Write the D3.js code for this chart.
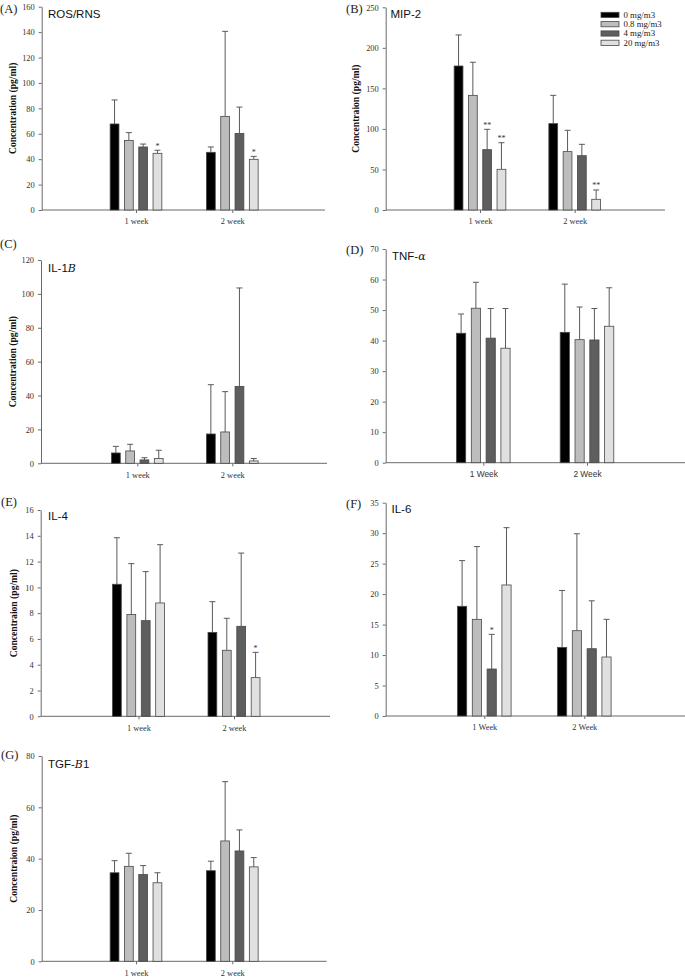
<!DOCTYPE html>
<html><head><meta charset="utf-8">
<script src="https://cdn.jsdelivr.net/npm/d3@7"></script>
<style>
body{margin:0;background:#fff;}
svg{display:block;}
</style></head>
<body>
<svg id="chart" width="685" height="977"></svg>
<script>
// ---------- data ----------
const doses = ["0 mg/m3", "0.8 mg/m3", "4 mg/m3", "20 mg/m3"];
const doseColors = ["#000000", "#bdbdbd", "#5e5e5e", "#e0e0e0"];
const weeksLower = ["1 week", "2 week"];
const weeksUpper = ["1 Week", "2 Week"];

// means [week][dose] and SD [week][dose]
const rosMean = [[67.7, 54.8, 49.6, 44.6], [45.4, 73.7, 60.3, 39.9]];
const rosSD   = [[18.9, 6.1, 2.3, 2.4], [4.2, 66.9, 20.7, 2.3]];
const rosSig  = [["", "", "", "*"], ["", "", "", "*"]];
const rosTicks = [0, 20, 40, 60, 80, 100, 120, 140, 160];

const mipMean = [[177.6, 141.4, 74.4, 50.2], [106.5, 72.0, 67.0, 13.2]];
const mipSD   = [[38.3, 40.8, 25.1, 32.8], [34.9, 26.3, 14.0, 11.5]];
const mipSig  = [["", "", "**", "**"], ["", "", "", "**"]];
const mipTicks = [0, 50, 100, 150, 200, 250];

const il1Mean = [[6.1, 7.3, 2.0, 2.8], [17.3, 18.5, 45.4, 1.4]];
const il1SD   = [[3.9, 3.9, 1.3, 4.9], [29.1, 23.8, 58.1, 1.4]];
const il1Sig  = [["", "", "", ""], ["", "", "", ""]];
const il1Ticks = [0, 20, 40, 60, 80, 100, 120];

const tnfMean = [[42.4, 50.6, 40.8, 37.5], [42.7, 40.3, 40.2, 44.7]];
const tnfSD   = [[6.3, 8.5, 9.7, 13.0], [15.8, 10.7, 10.3, 12.6]];
const tnfSig  = [["", "", "", ""], ["", "", "", ""]];
const tnfTicks = [0, 10, 20, 30, 40, 50, 60, 70];

const il4Mean = [[10.24, 7.9, 7.42, 8.79], [6.51, 5.12, 6.98, 3.0]];
const il4SD   = [[3.61, 3.94, 3.8, 4.52], [2.38, 2.48, 5.68, 1.96]];
const il4Sig  = [["", "", "", ""], ["", "", "", "*"]];
const il4Ticks = [0, 2, 4, 6, 8, 10, 12, 14, 16];

const il6Mean = [[18.0, 15.86, 7.71, 21.5], [11.26, 14.0, 11.04, 9.68]];
const il6SD   = [[7.5, 11.94, 5.69, 9.4], [9.34, 15.9, 7.86, 6.18]];
const il6Sig  = [["", "", "*", ""], ["", "", "", ""]];
const il6Ticks = [0, 5, 10, 15, 20, 25, 30, 35];

const tgfMean = [[34.5, 37.0, 33.8, 30.6], [35.3, 46.9, 43.0, 36.8]];
const tgfSD   = [[4.7, 5.1, 3.5, 3.9], [3.7, 23.1, 8.2, 3.6]];
const tgfSig  = [["", "", "", ""], ["", "", "", ""]];
const tgfTicks = [0, 20, 40, 60, 80];

// ---------- panels (layout) ----------
const panels = [
  {tag:"(A)", title:["ROS/RNS"], mean:rosMean, sd:rosSD, sig:rosSig, ticks:rosTicks, cats:weeksLower,
   ylab:"Concentration (pg/ml)", x0:41.7, x1:325, yT:6.7, yB:210, c:[136,232.3], step:14.3, bw:8.8,
   tagX:0, tagY:13, titleX:48, titleY:18, ylabX:12, catFont:"serif", legend:false},
  {tag:"(B)", title:["MIP-2"], mean:mipMean, sd:mipSD, sig:mipSig, ticks:mipTicks, cats:weeksLower,
   ylab:"Concentraion (pg/ml)", x0:385.7, x1:665, yT:7.3, yB:210, c:[480,574.7], step:14.3, bw:8.8,
   tagX:346, tagY:13, titleX:390.5, titleY:18, ylabX:355, catFont:"serif", legend:true},
  {tag:"(C)", title:["IL-1", "B"], mean:il1Mean, sd:il1SD, sig:il1Sig, ticks:il1Ticks, cats:weeksLower,
   ylab:"Concentration (pg/ml)", x0:41, x1:327, yT:260, yB:463.3, c:[137.3,232.3], step:14.3, bw:8.8,
   tagX:0, tagY:248, titleX:48, titleY:272, ylabX:12, catFont:"serif", legend:false},
  {tag:"(D)", title:["TNF-", "α"], mean:tnfMean, sd:tnfSD, sig:tnfSig, ticks:tnfTicks, cats:weeksUpper,
   ylab:null, x0:385.7, x1:685, yT:249, yB:462.7, c:[483.3,587], step:14.8, bw:9.2,
   tagX:346, tagY:254, titleX:392, titleY:260, ylabX:0, catFont:"sans", legend:false},
  {tag:"(E)", title:["IL-4"], mean:il4Mean, sd:il4SD, sig:il4Sig, ticks:il4Ticks, cats:weeksLower,
   ylab:"Concentraion (pg/ml)", x0:40.7, x1:330, yT:510, yB:716.3, c:[138.5,234], step:14.4, bw:8.8,
   tagX:1, tagY:506, titleX:48, titleY:520, ylabX:13, catFont:"serif", legend:false},
  {tag:"(F)", title:["IL-6"], mean:il6Mean, sd:il6SD, sig:il6Sig, ticks:il6Ticks, cats:weeksUpper,
   ylab:null, x0:385.7, x1:685, yT:502.7, yB:716, c:[484.3,584.3], step:14.8, bw:9.2,
   tagX:346, tagY:508, titleX:391.5, titleY:513, ylabX:0, catFont:"serif", legend:false},
  {tag:"(G)", title:["TGF-", "B", "1"], mean:tgfMean, sd:tgfSD, sig:tgfSig, ticks:tgfTicks, cats:weeksLower,
   ylab:"Concentraion (pg/ml)", x0:41.7, x1:326.7, yT:756, yB:961.3, c:[136,232.3], step:14.3, bw:8.8,
   tagX:1, tagY:759, titleX:48, titleY:768, ylabX:13, catFont:"serif", legend:false}
];

const svg = d3.select("#chart");
const serif = "'Liberation Serif','Times New Roman',serif";
const sans = "'Liberation Sans',Arial,sans-serif";
const axisCol = "#6a6a6a";

panels.forEach(p => {
  const g = svg.append("g");
  const y = d3.scaleLinear().domain([0, d3.max(p.ticks)]).range([p.yB, p.yT]);
  const xc = d3.scalePoint().domain(p.cats).range(p.c);
  const xd = d3.scaleBand().domain(doses).range([-2 * p.step, 2 * p.step]).paddingInner(1 - p.bw / p.step).paddingOuter((1 - p.bw / p.step) / 2);

  // y axis
  const ya = g.append("g").attr("transform", `translate(${p.x0},0)`)
    .call(d3.axisLeft(y).tickValues(p.ticks).tickSize(3).tickSizeOuter(0).tickPadding(4));
  ya.select(".domain").attr("stroke", axisCol).attr("stroke-width", 1);
  ya.selectAll(".tick line").attr("stroke", axisCol);
  ya.selectAll(".tick text").attr("font-family", serif).attr("font-size", 8.4).attr("fill", "#333");

  // x baseline
  g.append("line").attr("x1", p.x0).attr("x2", p.x1).attr("y1", p.yB).attr("y2", p.yB)
    .attr("stroke", axisCol).attr("stroke-width", 1);
  const xa = g.append("g").attr("transform", `translate(0,${p.yB})`)
    .call(d3.axisBottom(xc).tickSize(3).tickPadding(5.5));
  xa.select(".domain").remove();
  xa.selectAll(".tick line").attr("stroke", axisCol);
  xa.selectAll(".tick text").attr("font-family", p.catFont === "sans" ? sans : serif)
    .attr("font-size", 8.4).attr("fill", "#333");

  // bars
  p.cats.forEach((cat, wi) => {
    doses.forEach((d, di) => {
      const v = p.mean[wi][di], s = p.sd[wi][di];
      const bx = xc(cat) + xd(d);
      const cx = bx + xd.bandwidth() / 2;
      // error bar
      g.append("line").attr("x1", cx).attr("x2", cx).attr("y1", y(v)).attr("y2", y(v + s))
        .attr("stroke", "#5a5a5a").attr("stroke-width", 1);
      g.append("line").attr("x1", cx - 3).attr("x2", cx + 3).attr("y1", y(v + s)).attr("y2", y(v + s))
        .attr("stroke", "#5a5a5a").attr("stroke-width", 1);
      g.append("rect").attr("x", bx).attr("y", y(v)).attr("width", xd.bandwidth())
        .attr("height", y(0) - y(v)).attr("fill", doseColors[di]).attr("stroke", "#484848").attr("stroke-width", 0.8);
      const sg = p.sig[wi][di];
      if (sg) {
        g.append("text").attr("x", cx).attr("y", y(v + s) - 1.5).attr("text-anchor", "middle")
          .attr("font-family", serif).attr("font-size", 8).attr("fill", "#333").text(sg);
      }
    });
  });

  // panel tag
  g.append("text").attr("x", p.tagX).attr("y", p.tagY).attr("font-family", serif)
    .attr("font-size", 12.5).attr("fill", "#222").text(p.tag);
  // title
  const t = g.append("text").attr("x", p.titleX).attr("y", p.titleY).attr("font-family", sans)
    .attr("font-size", 11.5).attr("fill", "#111");
  p.title.forEach((part, i) => {
    const ts = t.append("tspan").text(part);
    if (i === 1) ts.attr("font-style", "italic").attr("font-family", "'DejaVu Serif',serif").attr("font-size", 11);
  });
  // y label
  if (p.ylab) {
    g.append("text").attr("transform", `translate(${p.ylabX + 3.5},${(p.yT + p.yB) / 2}) rotate(-90)`)
      .attr("text-anchor", "middle").attr("font-family", serif).attr("font-weight", "bold")
      .attr("font-size", 9.6).attr("fill", "#111").text(p.ylab);
  }
  // legend
  if (p.legend) {
    const lg = g.append("g");
    doses.forEach((d, i) => {
      const ly = 12.3 + i * 9.3;
      lg.append("rect").attr("x", 601).attr("y", ly).attr("width", 18).attr("height", 5.2)
        .attr("fill", doseColors[i]).attr("stroke", "#484848").attr("stroke-width", 0.8);
      lg.append("text").attr("x", 623.5).attr("y", ly + 5.5).attr("font-family", serif)
        .attr("font-size", 8.8).attr("fill", "#222").text(d);
    });
  }
});
</script>
</body></html>
